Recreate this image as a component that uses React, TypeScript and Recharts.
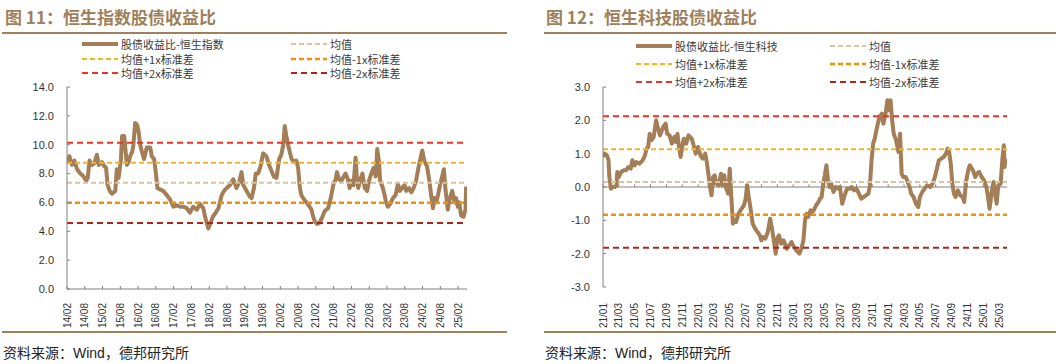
import React from 'react';
import { LineChart, Line, XAxis, YAxis, ReferenceLine } from 'recharts';

const BROWN = '#A37E56';
const AXIS = '#808080';
const NUM_FONT = '"Liberation Sans", Arial, sans-serif';
const CJK_FONT = '"Noto Sans CJK SC", "Noto Sans", sans-serif';

// 图11 恒生指数股债收益比; t = months since 2014/02
const hsiT = [
  0.0, 0.8, 1.7, 2.5, 3.4, 4.5, 5.6, 6.5, 7.0, 7.6, 8.4, 9.2, 10.1, 10.7, 11.8, 12.6, 13.2, 13.7, 14.4, 15.2,
  16.3, 16.8, 17.4, 18.2, 18.6, 19.3, 19.8, 20.2, 20.8, 21.3, 22.0, 22.4, 23.0, 23.6, 24.1, 24.7, 25.3, 26.0, 26.9, 28.1,
  28.6, 29.4, 30.0, 30.5, 31.4, 32.5, 33.7, 34.8, 35.9, 37.0, 38.2, 39.3, 40.4, 41.5, 42.6, 43.8, 44.9, 46.0, 46.6, 47.7,
  48.5, 49.2, 49.9, 51.1, 51.6, 52.2, 53.0, 53.9, 55.0, 56.1, 56.7, 57.2, 58.1, 58.9, 59.5, 60.6, 61.7, 62.3, 63.1, 63.7,
  64.5, 65.3, 66.2, 67.3, 68.2, 69.0, 69.8, 70.7, 71.6, 72.3, 73.0, 73.5, 74.1, 74.6, 75.2, 75.8, 76.9, 77.4, 78.0, 78.6,
  79.1, 79.7, 80.8, 81.9, 82.5, 83.1, 83.6, 84.4, 85.3, 86.2, 87.0, 88.1, 88.7, 89.2, 90.0, 90.7, 91.1, 91.8, 92.6, 93.4,
  94.0, 94.8, 95.4, 96.0, 96.7, 97.4, 97.9, 98.3, 99.0, 99.7, 100.5, 101.3, 101.9, 102.7, 103.5, 104.2, 104.7, 105.3, 105.7, 106.6,
  107.2, 107.7, 108.3, 109.1, 110.0, 110.9, 111.7, 112.3, 113.1, 113.9, 114.5, 115.4, 116.2, 117.0, 117.8, 118.7, 119.9, 120.7, 121.5, 122.3,
  122.9, 123.5, 124.0, 124.6, 125.2, 126.0, 126.6, 127.2, 127.7, 128.5, 129.1, 130.0, 130.8, 131.3, 131.9, 132.4, 133.0, 133.8, 134.5, 134.7,
];
const hsiV = [
  8.7, 9.2, 8.6, 8.9, 8.3, 8.0, 7.8, 7.5, 7.7, 8.9, 8.6, 8.7, 9.3, 8.6, 8.8, 8.5, 8.4, 7.2, 6.8, 6.6,
  6.8, 8.3, 7.7, 9.0, 10.6, 10.6, 9.5, 8.6, 8.8, 9.2, 9.5, 10.0, 11.5, 11.4, 11.0, 10.0, 9.5, 9.0, 9.8, 9.8,
  9.2, 9.0, 8.0, 7.0, 6.9, 6.8, 6.5, 6.2, 5.7, 5.8, 5.7, 5.7, 5.6, 5.3, 5.7, 5.5, 5.9, 5.6, 5.0, 4.2,
  4.6, 5.0, 5.2, 5.6, 6.0, 6.5, 6.8, 7.0, 7.2, 7.6, 7.3, 7.0, 7.4, 8.1, 7.2, 6.8, 6.4, 6.3, 7.0, 8.0,
  8.0, 8.5, 9.4, 9.2, 8.6, 8.2, 7.8, 7.7, 9.0, 9.3, 10.0, 11.3, 10.5, 10.0, 9.5, 9.0, 8.8, 8.9, 8.4, 7.0,
  6.5, 6.3, 6.0, 5.7, 5.5, 5.0, 4.7, 4.5, 4.6, 5.0, 5.4, 5.6, 6.0, 6.5, 7.3, 7.6, 8.1, 7.6, 7.5, 7.8,
  8.0, 7.6, 7.0, 7.5, 7.2, 9.1, 7.5, 7.0, 7.6, 8.0, 7.0, 6.8, 7.5, 8.0, 8.4, 7.8, 9.7, 8.8, 7.5, 7.0,
  6.5, 6.0, 5.7, 5.9, 6.3, 6.5, 7.3, 6.8, 7.0, 7.2, 6.8, 7.0, 6.7, 7.0, 7.5, 8.5, 9.6, 8.8, 8.5, 7.5,
  6.5, 5.6, 6.3, 6.0, 6.5, 7.3, 7.8, 8.3, 7.0, 5.5, 6.2, 6.8, 6.0, 6.3, 5.7, 6.0, 5.1, 5.0, 5.5, 7.1,
];
const hsiTicks = [
  '14/02', '14/08', '15/02', '15/08', '16/02', '16/08', '17/02', '17/08', '18/02', '18/08', '19/02', '19/08',
  '20/02', '20/08', '21/02', '21/08', '22/02', '22/08', '23/02', '23/08', '24/02', '24/08', '25/02',
];
// mean, +1sd, -1sd, +2sd, -2sd
const hsiBands = [7.36, 8.75, 5.97, 10.14, 4.58];
const hsiY = [0, 2, 4, 6, 8, 10, 12, 14];

// 图12 恒生科技股债收益比; t = months since 2021/01
const hstT = [
  0.0, 0.2, 0.5, 0.7, 0.8, 1.0, 1.2, 1.5, 1.7, 1.8, 2.0, 2.3, 2.6, 2.9, 3.2, 3.5, 3.7, 4.0, 4.2, 4.6,
  5.0, 5.3, 5.5, 5.7, 5.9, 6.1, 6.4, 6.7, 6.9, 7.2, 7.6, 7.9, 8.1, 8.4, 8.7, 9.0, 9.2, 9.4, 9.6, 9.8,
  10.0, 10.2, 10.5, 10.8, 11.2, 11.5, 11.7, 12.0, 12.3, 12.6, 12.9, 13.1, 13.3, 13.5, 13.7, 13.9, 14.1, 14.3, 14.6, 14.9,
  15.1, 15.3, 15.5, 15.8, 16.0, 16.2, 16.4, 16.6, 16.8, 17.1, 17.5, 17.8, 18.0, 18.2, 18.4, 18.6, 18.9, 19.2, 19.5, 19.8,
  20.0, 20.2, 20.5, 20.8, 21.1, 21.3, 21.5, 21.8, 22.0, 22.2, 22.5, 22.8, 23.2, 23.5, 23.8, 24.1, 24.4, 24.8, 25.1, 25.3,
  25.5, 25.7, 25.9, 26.2, 26.4, 26.6, 26.9, 27.2, 27.4, 27.6, 27.8, 28.0, 28.2, 28.4, 28.6, 28.8, 29.1, 29.4, 29.7, 29.9,
  30.2, 30.5, 30.8, 31.2, 31.4, 31.7, 32.0, 32.3, 32.6, 32.9, 33.2, 33.5, 33.7, 33.9, 34.1, 34.3, 34.6, 34.9, 35.2, 35.4,
  35.7, 35.9, 36.1, 36.3, 36.5, 36.7, 37.0, 37.3, 37.5, 37.7, 37.9, 38.2, 38.4, 38.7, 38.9, 39.2, 39.5, 39.8, 40.0, 40.3,
  40.6, 40.9, 41.3, 41.6, 41.9, 42.2, 42.4, 42.7, 43.0, 43.3, 43.5, 43.7, 43.9, 44.1, 44.3, 44.5, 44.8, 45.1, 45.4, 45.6,
  45.8, 46.1, 46.3, 46.7, 47.0, 47.2, 47.5, 47.8, 48.1, 48.4, 48.6, 48.8, 49.1, 49.3, 49.5, 49.7, 49.9, 50.2, 50.4, 50.6,
  50.7, 50.8,
];
const hstV = [
  0.9, 1.0, 0.95, 0.8, 0.3, -0.05, 0.0, 0.0, 0.05, 0.45, 0.3, 0.45, 0.5, 0.5, 0.6, 0.55, 0.8, 0.65, 0.75, 0.7,
  0.8, 0.95, 1.15, 1.2, 1.6, 1.4, 1.5, 2.0, 1.8, 1.55, 1.8, 1.9, 1.6, 1.55, 1.3, 1.5, 1.35, 1.6, 1.2, 0.9,
  1.2, 1.45, 1.3, 1.55, 1.45, 1.2, 1.0, 1.2, 0.95, 0.85, 1.0, 0.75, 0.4, 0.0, -0.25, 0.3, 0.35, 0.1, 0.05, 0.4,
  0.05, 0.35, 0.0, -0.2, 0.55, -0.3, -1.1, -1.0, -1.05, -0.8, -0.65, -0.55, -0.35, 0.05, -0.3, -0.6, -1.1, -1.25, -1.35, -1.45,
  -1.6, -1.5, -1.55, -1.35, -0.95, -1.2, -1.5, -2.0, -1.55, -1.45, -1.7, -1.6, -1.85, -1.75, -1.65, -1.8, -1.9, -2.0, -1.8, -1.6,
  -1.0, -0.8, -0.9, -0.7, -0.75, -0.7, -0.55, -0.45, -0.35, -0.3, 0.1, 0.35, 0.65, 0.2, 0.0, 0.1, -0.15, 0.0, -0.05, 0.0,
  -0.5, -0.25, -0.05, -0.05, 0.0, -0.1, -0.05, -0.2, -0.35, -0.3, -0.25, -0.2, 0.05, 0.8, 1.3, 1.45, 1.8, 2.1, 2.2, 1.9,
  2.25, 2.6, 2.3, 2.6, 2.0, 1.6, 1.4, 1.05, 1.6, 0.4, 0.3, 0.3, 0.2, 0.0, -0.2, -0.3, -0.5, -0.6, -0.3, -0.15,
  -0.05, 0.05, 0.0, 0.1, 0.3, 0.6, 0.8, 0.85, 0.9, 1.0, 1.15, 1.05, 0.7, 0.1, -0.2, -0.3, -0.1, -0.25, -0.3, -0.45,
  0.1, 0.5, 0.65, 0.5, 0.3, 0.4, 0.45, 0.3, 0.2, 0.0, -0.3, -0.65, -0.1, 0.15, -0.2, -0.5, 0.05, 0.1, 0.8, 1.25,
  0.6, 0.85,
];
const hstTicks = [
  '21/01', '21/03', '21/05', '21/07', '21/09', '21/11', '22/01', '22/03', '22/05', '22/07', '22/09', '22/11',
  '23/01', '23/03', '23/05', '23/07', '23/09', '23/11', '24/01', '24/03', '24/05', '24/07', '24/09', '24/11',
  '25/01', '25/03',
];
const hstBands = [0.15, 1.135, -0.835, 2.12, -1.82];
const hstY = [-3, -2, -1, 0, 1, 2, 3];

const bandNames = ['均值', '均值+1x标准差', '均值-1x标准差', '均值+2x标准差', '均值-2x标准差'];
const bandStyle = [
  { color: '#D8C59E', dash: '5 3', width: 2 },
  { color: '#F6B520', dash: '5 3', width: 2 },
  { color: '#F39200', dash: '5 3', width: 2.5 },
  { color: '#EA3323', dash: '6 4', width: 2 },
  { color: '#B02418', dash: '6 4', width: 2 },
];

type PanelProps = {
  x0: number;
  title: string;
  seriesName: string;
  t: number[];
  v: number[];
  tickLabels: string[];
  tickStep: number;
  tMax: number;
  yTicks: number[];
  bands: number[];
  titleLeft: number;
  ruleLeft: number;
  ruleWidth: number;
  legendRows: number[];
  legendCols: number[];
  ml: number;
  mr: number;
  xh: number;
  zeroAxis: boolean;
};

function LegendItem({ x, y, name, color, dash, width }: any) {
  return (
    <div style={{ position: 'absolute', left: x, top: y - 7, height: 14, display: 'flex', alignItems: 'center' }}>
      <svg width={36} height={8}>
        <line x1={0} y1={4} x2={36} y2={4} stroke={color} strokeWidth={width} strokeDasharray={dash} />
      </svg>
      <span style={{ marginLeft: 3, fontSize: 11, lineHeight: '14px', color: '#3a3a3a', fontFamily: CJK_FONT, whiteSpace: 'nowrap' }}>
        {name}
      </span>
    </div>
  );
}

function Panel(p: PanelProps) {
  const data = p.t.map((t, i) => ({ t, v: p.v[i] }));
  const tickVals = p.tickLabels.map((_, i) => i * p.tickStep);
  const yMin = p.yTicks[0];
  const yMax = p.yTicks[p.yTicks.length - 1];

  const RotTick = (props: any) => {
    const { x, y, payload } = props;
    const label = p.tickLabels[Math.round(payload.value / p.tickStep)];
    return (
      <text
        x={x}
        y={y}
        transform={`rotate(-90 ${x} ${y})`}
        textAnchor="end"
        dy="0.35em"
        fontSize={10}
        fill="#333"
        fontFamily={NUM_FONT}
      >
        {label}
      </text>
    );
  };

  const legend = [
    { name: p.seriesName, color: BROWN, dash: undefined, width: 4 },
    ...bandNames.map((n, i) => ({ name: n, ...bandStyle[i] })),
  ];

  return (
    <div style={{ position: 'absolute', left: p.x0, top: 0, width: 528, height: 364 }}>
      <div
        style={{
          position: 'absolute',
          left: p.titleLeft,
          top: 7,
          fontSize: 17,
          lineHeight: '20px',
          fontWeight: 'bold',
          color: '#A0805A',
          fontFamily: CJK_FONT,
          whiteSpace: 'nowrap',
        }}
      >
        {p.title}
      </div>
      <div style={{ position: 'absolute', left: p.ruleLeft, top: 32, width: p.ruleWidth, height: 2, background: '#A0805A' }} />
      {legend.map((it, i) => (
        <LegendItem
          key={it.name}
          x={p.legendCols[i % 2]}
          y={p.legendRows[Math.floor(i / 2)]}
          name={it.name}
          color={it.color}
          dash={it.dash}
          width={it.width}
        />
      ))}
      <div style={{ position: 'absolute', left: 0, top: 0 }}>
        <LineChart width={528} height={364} data={data} margin={{ top: 87, right: p.mr, bottom: 0, left: p.ml }}>
          <XAxis
            type="number"
            dataKey="t"
            domain={[0, p.tMax]}
            ticks={tickVals}
            interval={0}
            height={p.xh}
            axisLine={p.zeroAxis ? false : { stroke: AXIS }}
            tickLine={p.zeroAxis ? false : { stroke: AXIS }}
            tickSize={-3}
            tickMargin={p.zeroAxis ? 19 : 17}
            tick={RotTick}
            allowDataOverflow
          />
          <YAxis
            type="number"
            domain={[yMin, yMax]}
            ticks={p.yTicks}
            interval={0}
            width={50}
            axisLine={{ stroke: AXIS }}
            tickLine={{ stroke: AXIS }}
            tickSize={-3}
            tickMargin={16}
            tick={{ fontSize: 11, fill: '#333', fontFamily: NUM_FONT }}
            tickFormatter={(v: number) => v.toFixed(1)}
            allowDataOverflow
          />
          {p.zeroAxis && <ReferenceLine y={0} stroke={AXIS} strokeWidth={1} />}
          {p.zeroAxis &&
            tickVals.map((tv) => (
              <ReferenceLine
                key={'zt' + tv}
                segment={[
                  { x: tv, y: 0 },
                  { x: tv, y: 0.08 },
                ]}
                stroke={AXIS}
                strokeWidth={1}
              />
            ))}
          <Line
            type="linear"
            dataKey="v"
            stroke={BROWN}
            strokeWidth={4}
            strokeLinejoin="round"
            dot={false}
            activeDot={false}
            isAnimationActive={false}
          />
          {p.bands.map((b, i) => (
            <ReferenceLine
              key={'b' + i}
              y={b}
              stroke={bandStyle[i].color}
              strokeWidth={bandStyle[i].width}
              strokeDasharray={bandStyle[i].dash}
            />
          ))}
        </LineChart>
      </div>
      <div style={{ position: 'absolute', left: p.ruleLeft, top: 331, width: p.ruleWidth, height: 2, background: '#A0805A' }} />
      <div
        style={{
          position: 'absolute',
          left: p.ruleLeft + 1,
          top: 343,
          fontSize: 14,
          lineHeight: '18px',
          color: '#222',
          fontFamily: CJK_FONT,
          whiteSpace: 'nowrap',
        }}
      >
        资料来源：<span style={{ fontFamily: NUM_FONT }}>Wind</span>，德邦研究所
      </div>
    </div>
  );
}

export default function App() {
  return (
    <div style={{ position: 'absolute', left: 0, top: 0, width: 1056, height: 364, background: '#fff', overflow: 'hidden' }}>
      <Panel
        x0={0}
        title="图 11：恒生指数股债收益比"
        seriesName="股债收益比-恒生指数"
        t={hsiT}
        v={hsiV}
        tickLabels={hsiTicks}
        tickStep={6}
        tMax={135}
        yTicks={hsiY}
        bands={hsiBands}
        titleLeft={5}
        ruleLeft={2}
        ruleWidth={505}
        legendRows={[44, 59, 73]}
        legendCols={[82, 291]}
        ml={17}
        mr={61}
        xh={75}
        zeroAxis={false}
      />
      <Panel
        x0={528}
        title="图 12：恒生科技股债收益比"
        seriesName="股债收益比-恒生科技"
        t={hstT}
        v={hstV}
        tickLabels={hstTicks}
        tickStep={2}
        tMax={51}
        yTicks={hstY}
        bands={hstBands}
        titleLeft={18}
        ruleLeft={16}
        ruleWidth={512}
        legendRows={[46, 64, 82]}
        legendCols={[108, 302]}
        ml={25}
        mr={49}
        xh={77}
        zeroAxis={true}
      />
    </div>
  );
}
